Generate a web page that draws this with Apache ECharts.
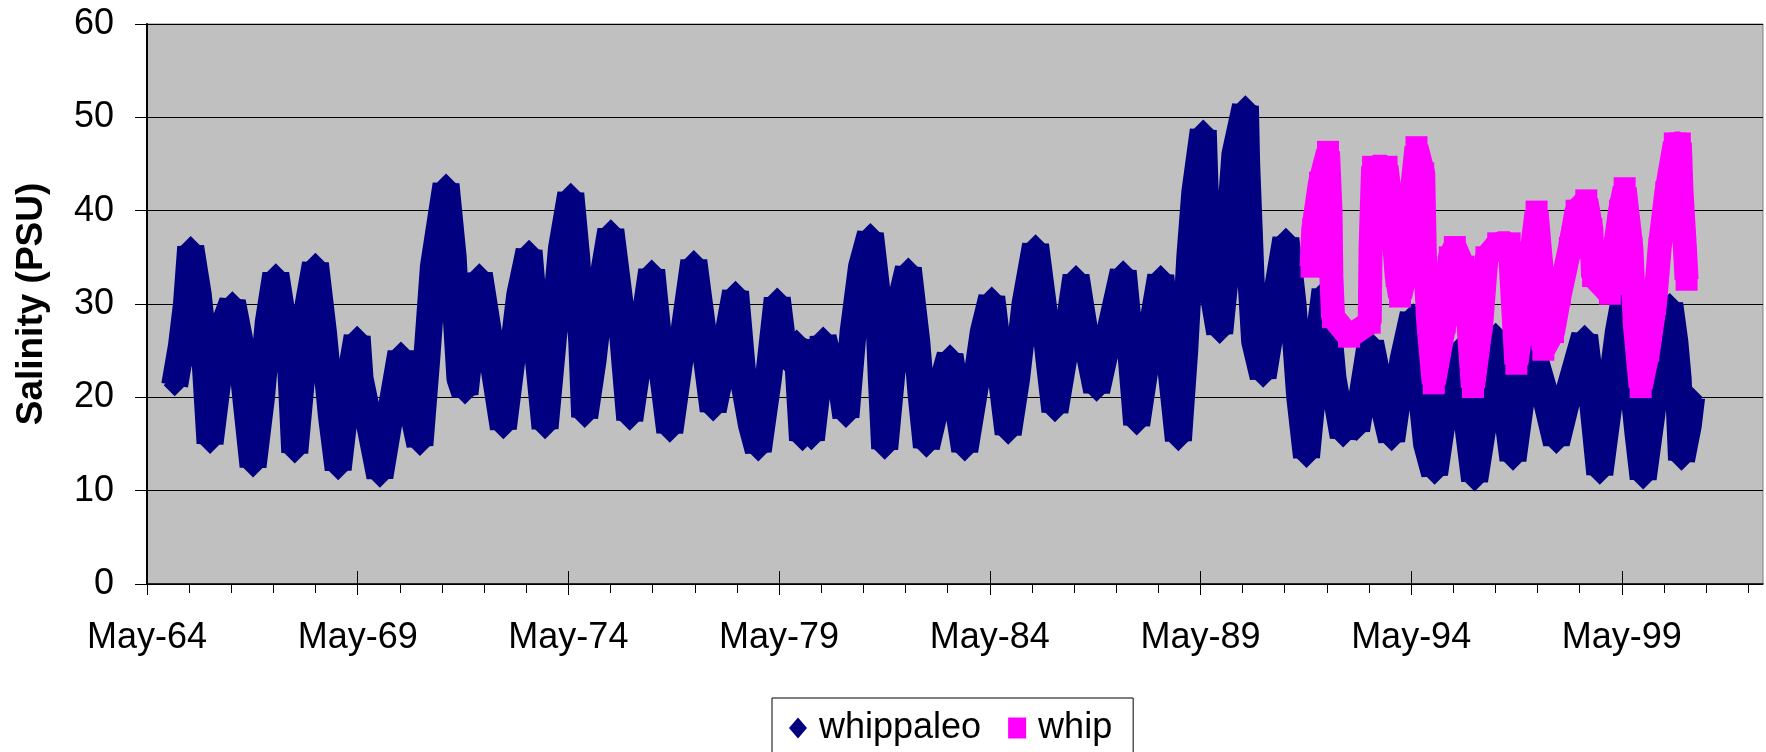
<!DOCTYPE html>
<html>
<head>
<meta charset="utf-8">
<script src="https://cdn.jsdelivr.net/npm/echarts@6/dist/echarts.min.js"></script>
<style>
  html, body { margin: 0; padding: 0; background: #fff; }
  #chart { width: 1766px; height: 752px; }
</style>
</head>
<body>
<div id="chart"></div>
<script>
// May-64 in decimal years, start of the date axis
const AXIS_START = 1964 + 4 / 12;
const AXIS_SPAN = 38.35;

// labelled (May) years and the yearly minor ticks
const labelYears = [1964, 1969, 1974, 1979, 1984, 1989, 1994, 1999];
const minorYears = [1965, 1966, 1967, 1968, 1970, 1971, 1972, 1973, 1975, 1976, 1977, 1978,
    1980, 1981, 1982, 1983, 1985, 1986, 1987, 1988, 1990, 1991, 1992, 1993,
    1995, 1996, 1997, 1998, 2000, 2001, 2002];

// whippaleo (decimal year, salinity PSU)
const paleoYear = [1964.99, 1965.15, 1965.27, 1965.37, 1965.55, 1965.71, 1965.83, 1966.02, 1966.18, 1966.36, 1966.54, 1966.70, 1966.85, 1967.05, 1967.21, 1967.39, 1967.57, 1967.72, 1967.84, 1968.00, 1968.16, 1968.33, 1968.52, 1968.71, 1968.87, 1969.07, 1969.32,
    1969.39, 1969.62, 1969.86, 1970.10, 1970.36, 1970.57, 1970.81, 1970.97, 1971.13, 1971.43, 1971.60, 1971.68, 1971.76, 1971.88, 1972.04, 1972.22, 1972.47, 1972.79, 1973.02, 1973.18, 1973.40, 1973.58, 1973.78, 1973.97, 1974.17, 1974.39,
    1974.53, 1974.65, 1974.72, 1974.92, 1975.12, 1975.34, 1975.56, 1975.67, 1975.79, 1976.03, 1976.31, 1976.50, 1976.74, 1976.98, 1977.31, 1977.53, 1977.77, 1978.01, 1978.30, 1978.48, 1978.68, 1978.84, 1979.08, 1979.29,
    1979.47, 1979.75, 1979.89, 1980.00, 1980.10, 1980.38, 1980.62, 1980.82, 1980.92, 1981.09, 1981.29, 1981.50, 1981.69, 1981.76, 1981.84, 1982.04, 1982.20, 1982.40, 1982.60, 1982.71, 1982.83, 1983.11, 1983.39, 1983.58, 1983.74, 1984.02, 1984.18, 1984.38,
    1984.53, 1984.77, 1984.97, 1985.17, 1985.42, 1985.60, 1985.74, 1985.88, 1986.12, 1986.38, 1986.59, 1986.87, 1987.18, 1987.50, 1987.66, 1987.82, 1988.05, 1988.39, 1988.61, 1988.81, 1988.96, 1989.08, 1989.20, 1989.40,
    1989.46, 1989.56, 1989.79, 1989.99, 1990.15, 1990.40, 1990.43, 1990.49, 1990.54, 1990.62, 1990.82, 1991.10, 1991.36, 1991.53, 1991.69, 1991.85, 1992.05, 1992.29, 1992.48, 1992.72, 1992.92, 1993.04, 1993.37, 1993.63, 1993.87, 1994.14, 1994.38,
    1994.54, 1994.70, 1994.89, 1995.09, 1995.45, 1995.65, 1995.84, 1996.08, 1996.34, 1996.56, 1996.75, 1996.95, 1997.15, 1997.47, 1997.78, 1998.10, 1998.45, 1998.65, 1998.81, 1999.05, 1999.25, 1999.40,
    1999.56, 1999.72, 1999.84, 2000.04, 2000.23, 2000.47, 2000.59, 2000.67, 2000.75, 2000.91, 2000.99];
const paleoSalinity = [21.3, 25.5, 30, 36.1, 31, 24, 15.1, 22, 28, 30.2, 26, 19, 12.6, 20, 28, 33.2, 28, 25.5, 14.1, 22, 30, 34.3, 27, 18, 12.3, 20, 26.5,
    22, 17, 11.5, 18, 24.8, 20, 14.9, 24, 34, 42.8, 35, 28, 22, 20.4, 27, 33.2, 26, 16.7, 25, 31, 35.7, 26, 16.7, 26, 36, 41.8,
    35, 26, 17.9, 24, 32, 37.9, 30, 24, 17.6, 25, 33.6, 25, 16.3, 24, 34.6, 27, 18.6, 24, 31.3, 22, 17, 14.3, 22, 30.6,
    24, 26.1, 15.4, 18, 15.5, 26.4, 22, 21, 17.9, 27, 34, 37.5, 30, 22, 14.5, 24, 30, 33.8, 26, 20, 14.7, 20, 24.5, 19, 14.3, 22, 27, 30.7,
    25, 16.1, 22, 30, 36.3, 30, 24, 18.5, 25, 33.0, 27, 20.7, 27, 33.5, 26, 17.1, 24, 33.0, 24, 15.4, 25, 35, 42, 48.6,
    40, 33, 26.9, 36, 46, 51.2, 45, 38, 32, 26, 22.2, 30, 37.0, 30, 20, 13.6, 23, 31.5, 22, 15.8, 19, 16.5, 25.9, 20, 15.4, 24, 28.9,
    22, 15, 11.8, 18, 25.2, 18, 11.1, 18, 26.8, 20, 13.3, 20, 26, 21, 15.1, 21, 26.6, 19, 11.8, 20, 27, 30.7,
    23, 16, 11.3, 18, 25, 30.0, 26, 22, 13.3, 17, 20];

// whip
const whipYear = [1991.97, 1992.01, 1992.17, 1992.36, 1992.42, 1992.44, 1992.48, 1992.86, 1993.35, 1993.37, 1993.43, 1993.75, 1993.87, 1993.99, 1994.07, 1994.18, 1994.30, 1994.46,
    1994.62, 1994.66, 1994.74, 1994.87, 1995.13, 1995.25, 1995.37, 1995.57, 1995.69, 1995.80, 1996.00, 1996.12, 1996.40, 1996.67, 1996.75, 1996.83, 1997.15, 1997.31, 1997.43, 1997.47, 1997.70, 1997.86, 1998.10, 1998.26, 1998.49, 1998.61, 1998.65, 1999.05, 1999.17, 1999.29, 1999.40,
    1999.56, 1999.64, 1999.78, 1999.96, 2000.12, 2000.23, 2000.39, 2000.59, 2000.71, 2000.75, 2000.83, 2000.87];
const whipSalinity = [34, 38, 43, 46.3, 40, 33, 28.6, 26.5, 28, 36, 44.7, 44.7, 40, 33, 30.8, 33, 40, 46.8,
    44, 35, 28, 21.5, 28, 35, 36.1, 34, 28, 21.1, 28, 35, 36.5, 36.5, 30, 23.6, 34, 39.9, 33.6, 25.1, 27, 31, 36, 40, 41.1, 38, 33, 31.1, 36, 40, 42.4,
    36, 28, 21.1, 25, 30, 36, 42, 47.2, 47.2, 42, 36, 32.6];

const FONT = "'Liberation Sans', Arial, sans-serif";

function toPairs(years, values) {
    return years.map(function (y, i) { return [y - AXIS_START, values[i]]; });
}

const majorTicks = labelYears.map(function (y) { return y + 4 / 12 - AXIS_START; });
const minorTicks = minorYears.map(function (y) { return y + 4 / 12 - AXIS_START; });

const chart = echarts.init(document.getElementById('chart'), null, { renderer: 'canvas' });

function dateAxis(extra) {
    return Object.assign({
        type: 'value',
        gridIndex: 0,
        position: 'bottom',
        min: 0,
        max: AXIS_SPAN,
        splitLine: { show: false },
        axisLine: { show: false },
        axisLabel: { show: false },
        axisTick: { show: false }
    }, extra);
}

const option = {
    backgroundColor: '#ffffff',
    animation: false,
    grid: {
        left: 147,
        right: 3,
        top: 24,
        bottom: 168,
        show: true,
        backgroundColor: '#C0C0C0',
        borderColor: '#808080',
        borderWidth: 1,
        containLabel: false,
        outerBoundsMode: 'none'
    },
    legend: {
        left: 772,
        top: 698,
        orient: 'horizontal',
        padding: [12, 21, 12, 17],
        itemGap: 27,
        itemWidth: 18,
        itemHeight: 21,
        borderColor: '#000',
        borderWidth: 1,
        backgroundColor: '#fff',
        textStyle: { fontFamily: FONT, fontSize: 36, color: '#000', padding: [0, 0, 0, 7] },
        data: [{ name: 'whippaleo', icon: 'diamond' }, { name: 'whip', icon: 'rect' }]
    },
    xAxis: [
        dateAxis({
            axisLine: { show: true, lineStyle: { color: '#000', width: 1.5 } },
            axisTick: { show: true, inside: false, length: 11, customValues: majorTicks, lineStyle: { color: '#000', width: 1 } },
            axisLabel: {
                show: true,
                customValues: majorTicks,
                margin: 36,
                fontFamily: FONT,
                fontSize: 36,
                color: '#000',
                formatter: function (v) {
                    const yr = Math.round(v + AXIS_START - 4 / 12);
                    return 'May-' + String(yr % 100).padStart(2, '0');
                }
            }
        }),
        // yearly minor ticks
        dateAxis({
            axisTick: { show: true, inside: false, length: 9, customValues: minorTicks, lineStyle: { color: '#000', width: 1 } }
        }),
        // the major ticks cross the axis
        dateAxis({
            axisTick: { show: true, inside: true, length: 13, customValues: majorTicks, lineStyle: { color: '#000', width: 1 } }
        })
    ],
    yAxis: {
        type: 'value',
        min: 0,
        max: 60,
        interval: 10,
        name: 'Salinity (PSU)',
        nameLocation: 'middle',
        nameGap: 97,
        nameTextStyle: { fontFamily: FONT, fontSize: 37, fontWeight: 'bold', color: '#000' },
        axisLine: { show: true, lineStyle: { color: '#000', width: 2 } },
        axisTick: { show: true, inside: false, length: 12, lineStyle: { color: '#000', width: 1 } },
        axisLabel: { margin: 33, fontFamily: FONT, fontSize: 36, color: '#000' },
        splitLine: { show: true, lineStyle: { color: '#000', width: 1 } }
    },
    series: [
        {
            name: 'whippaleo',
            type: 'line',
            z: 2,
            data: toPairs(paleoYear, paleoSalinity),
            symbol: 'diamond',
            symbolSize: [22, 22],
            showSymbol: true,
            showAllSymbol: true,
            silent: true,
            itemStyle: { color: '#000080', borderWidth: 0 },
            lineStyle: { color: '#000080', width: 27, join: 'bevel', cap: 'butt' },
            emphasis: { disabled: true }
        },
        {
            name: 'whip',
            type: 'line',
            z: 4,
            data: toPairs(whipYear, whipSalinity),
            symbol: 'rect',
            symbolSize: [22, 22],
            showSymbol: true,
            showAllSymbol: true,
            silent: true,
            itemStyle: { color: '#FF00FF', borderWidth: 0 },
            lineStyle: { color: '#FF00FF', width: 24, join: 'bevel', cap: 'butt' },
            emphasis: { disabled: true }
        }
    ]
};

chart.setOption(option);
</script>
</body>
</html>
